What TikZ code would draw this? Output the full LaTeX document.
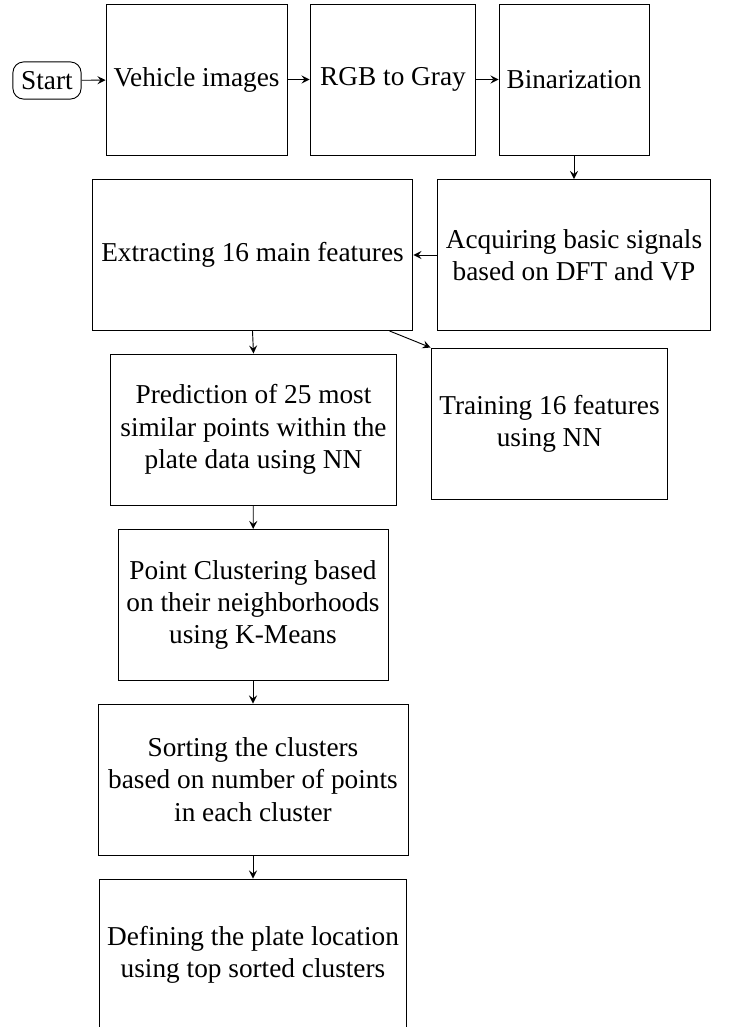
\documentclass[tikz,border=0pt]{standalone}
\usepackage{fontspec}
\setmainfont{Liberation Serif}

\begin{document}
\begin{tikzpicture}[x=0.3774pt,y=-0.3774pt,>=stealth,line width=0.35pt,
    font=\fontsize{10.3}{12.2}\selectfont,
    block/.style={draw,align=center,minimum height=57pt,inner sep=2pt}]
\useasboundingbox (0,0) rectangle (730,1027);

    \node[draw,rounded corners=4pt,minimum width=25.7pt,minimum height=14pt,inner sep=2pt] (start) at (47,80.5) {Start};
    \node[block,minimum width=68.3pt] (veh) at (196.5,79.5) {Vehicle images};
    \node[block,minimum width=62.6pt] (rgb) at (393,79.5) {RGB to Gray};
    \node[block,minimum width=56.6pt] (bin) at (574,79.5) {Binarization};

    \node[block,minimum width=102.7pt] (acq) at (574,255) {Acquiring basic signals\\based on DFT and VP};
    \node[block,minimum width=121.1pt] (ext) at (252.5,255) {Extracting 16 main features};

    \node[block,minimum width=107.6pt] (pred) at (253.5,429.5) {Prediction of 25 most\\similar points within the\\plate data using NN};
    \node[block,minimum width=89.4pt] (train) at (549.5,423.5) {Training 16 features\\using NN};

    \node[block,minimum width=101.9pt] (point) at (253,605) {Point Clustering based\\on their neighborhoods\\using K-Means};
    \node[block,minimum width=117pt] (sort) at (253,779.5) {Sorting the clusters\\based on number of points\\in each cluster};
    \node[block,minimum width=116.2pt] (def) at (253,954.5) {Defining the plate location\\using top sorted clusters};

 \draw[->] (start) -- (veh);
 \draw[->] (veh) -- (rgb);
 \draw[->] (rgb) -- (bin);
 \draw[->] (bin) -- (acq);
 \draw[->] (acq) -- (ext);
 \draw[->] (ext.south) -- (pred.north);
 \draw[->] (ext.-29) -- (train.north west);
 \draw[->] (pred) -- (point);
 \draw[->] (point) -- (sort);
 \draw[->] (sort) -- (def);
\end{tikzpicture}
\end{document}
